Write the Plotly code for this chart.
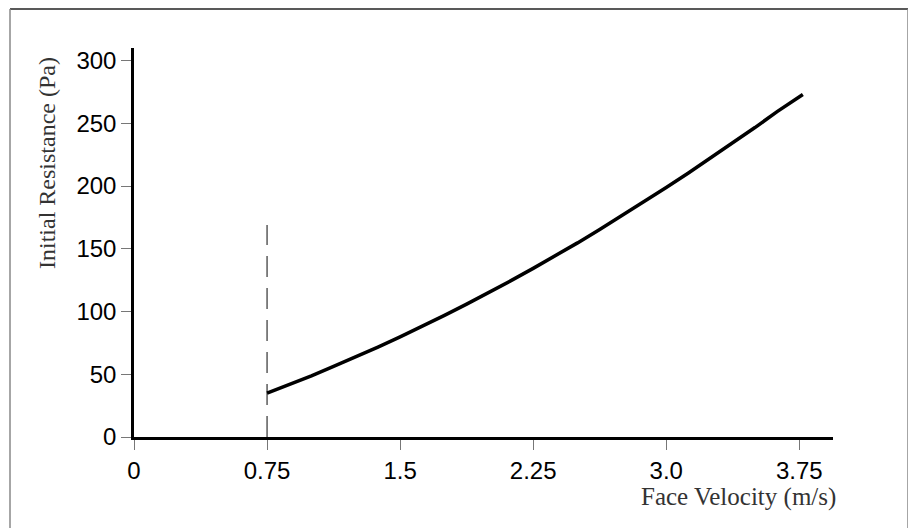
import plotly.graph_objects as go

# Data
velocity = [0.75, 0.875, 1.0, 1.125, 1.25, 1.375, 1.5, 1.625, 1.75, 1.875, 2.0, 2.125,
            2.25, 2.375, 2.5, 2.625, 2.75, 2.875, 3.0, 3.125, 3.25, 3.375, 3.5, 3.625, 3.77]
resistance = [35.0, 41.8, 48.8, 56.2, 63.8, 71.7, 79.8, 88.2, 96.9, 105.9, 115.1, 124.6,
              134.4, 144.4, 154.7, 165.4, 176.3, 187.4, 198.8, 210.4, 222.2, 234.3, 246.6, 259.3, 273.0]
marker_x = [0.75, 0.75]
marker_y = [0, 169]
x_ticks = [0, 0.75, 1.5, 2.25, 3.0, 3.75]
x_tick_labels = ["0", "0.75", "1.5", "2.25", "3.0", "3.75"]
y_ticks = [0, 50, 100, 150, 200, 250, 300]
y_tick_labels = ["0", "50", "100", "150", "200", "250", "300"]

fig = go.Figure()
fig.add_trace(go.Scatter(x=marker_x, y=marker_y, mode="lines",
                         line=dict(color="#333333", width=1.2, dash="21px,11px"),
                         showlegend=False, hoverinfo="skip"))
fig.add_trace(go.Scatter(x=velocity, y=resistance, mode="lines",
                         line=dict(color="#000000", width=3.5),
                         showlegend=False))

serif = "Liberation Serif, Times New Roman, serif"
sans = "Liberation Sans, Arial, sans-serif"

PW, PH = 699, 389  # plot area size in px
fig.update_layout(
    width=908, height=520,
    margin=dict(l=126, r=83, t=40, b=91),
    paper_bgcolor="white", plot_bgcolor="white",
    xaxis=dict(range=[0, 3.94], tickvals=x_ticks, ticktext=x_tick_labels,
               showgrid=False, zeroline=False, showline=True, linecolor="black", linewidth=2.5,
               ticks="outside", ticklen=10, tickwidth=1, tickcolor="#777777",
               tickfont=dict(family=sans, size=24, color="black")),
    yaxis=dict(range=[0, 310], tickvals=y_ticks, ticktext=y_tick_labels,
               showgrid=False, zeroline=False, showline=True, linecolor="black", linewidth=2.5,
               ticks="outside", ticklen=10, tickwidth=1, tickcolor="#777777",
               tickfont=dict(family=sans, size=24, color="black")),
    annotations=[
        dict(text="Face Velocity (m/s)", xref="paper", yref="paper",
             x=(838 - 134) / PW, y=-(497 - 437) / PH, xanchor="right", yanchor="middle",
             showarrow=False, font=dict(family=serif, size=25, color="#333333")),
        dict(text="Initial Resistance (Pa)", xref="paper", yref="paper",
             x=-(134 - 47) / PW, y=(437 - 163) / PH, xanchor="center", yanchor="middle",
             textangle=-90, showarrow=False, font=dict(family=serif, size=24, color="#333333")),
    ],
    shapes=[
        dict(type="line", xref="paper", yref="paper", x0=-(134 - 10) / PW, x1=(908 - 134) / PW,
             y0=(437 - 9) / PH, y1=(437 - 9) / PH, line=dict(color="#222222", width=1.5)),
        dict(type="line", xref="paper", yref="paper", x0=-(134 - 10) / PW, x1=-(134 - 10) / PW,
             y0=(437 - 9) / PH, y1=-(540 - 437) / PH, line=dict(color="#888888", width=1.5)),
        dict(type="line", xref="paper", yref="paper", x0=(908 - 134) / PW, x1=(908 - 134) / PW,
             y0=(437 - 9) / PH, y1=-(540 - 437) / PH, line=dict(color="#888888", width=1.5)),
    ],
)

fig.write_html("out.html")
